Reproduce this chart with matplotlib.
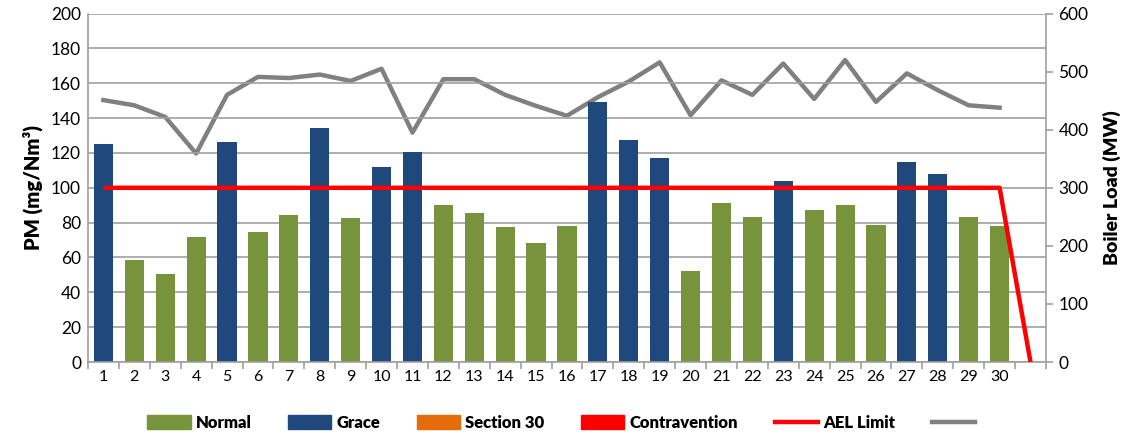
import matplotlib
matplotlib.use("Agg")
import matplotlib.pyplot as plt
from matplotlib.patches import Patch
from matplotlib.lines import Line2D
import numpy as np

plt.rcParams['font.family'] = ['Lato', 'DejaVu Sans']

days = list(range(1, 31))
pm = [125, 58.5, 50.6, 72, 126.5, 74.7, 84.6, 134.1, 82.5, 112,
      120.5, 90.2, 85.4, 77.7, 68.4, 77.9, 149.4, 127.4, 116.9, 52.5,
      91.3, 83.1, 104.1, 87.1, 90, 78.7, 114.6, 107.7, 83.3, 78.3]
status = ['G', 'N', 'N', 'N', 'G', 'N', 'N', 'G', 'N', 'G',
          'G', 'N', 'N', 'N', 'N', 'N', 'G', 'G', 'G', 'N',
          'N', 'N', 'G', 'N', 'N', 'N', 'G', 'G', 'N', 'N']
load = [451, 442, 422, 359, 460, 491, 489, 495, 484, 505,
        395, 487, 487, 460, 441, 424, 456, 483, 516, 425,
        485, 460, 514, 453, 520, 448, 497, 468, 442, 438]
ael_x = list(range(1, 32))
ael = [100] * 30 + [0]

c_normal = '#77933C'
c_grace = '#1F497D'
c_s30 = '#E46C0A'
c_contra = '#FF0000'
c_grid = '#A0A0A0'

fig = plt.figure(figsize=(11.31, 4.38), dpi=100)
ax = fig.add_axes([0.0778, 0.1735, 0.9248 - 0.0778, 0.969 - 0.1735])

colors = [c_grace if s == 'G' else c_normal for s in status]
ax.bar(days, pm, width=0.62, color=colors, zorder=2, edgecolor='none')
ax.plot(ael_x, ael, color=c_contra, lw=3.2, zorder=4, solid_capstyle='butt')

ax.set_xlim(0.5, 31.5)
ax.set_ylim(0, 200)
ax.set_yticks(np.arange(0, 201, 20))
ax.set_xticks(ael_x)
ax.set_xticklabels([str(d) for d in days] + [''])
ax.set_xticks(np.arange(0.5, 31.6, 1), minor=True)
ax.tick_params(axis='x', which='major', length=0, labelsize=11.5, pad=6, colors='black')
ax.tick_params(axis='x', which='minor', length=5, color=c_grid, width=1.2)
ax.tick_params(axis='y', length=0, labelsize=12.5, pad=5)
ax.yaxis.grid(True, color=c_grid, lw=1.2, zorder=0)
ax.set_axisbelow(True)
for s in ['top', 'right']:
    ax.spines[s].set_visible(False)
for s in ['left', 'bottom']:
    ax.spines[s].set_color(c_grid)
    ax.spines[s].set_linewidth(1.2)
ax.set_ylabel('PM (mg/Nm³)', fontsize=14.5, fontweight='heavy', labelpad=6)

ax2 = ax.twinx()
ax2.plot(days, load, color='#808080', lw=3.2, zorder=3)
ax2.set_ylim(0, 600)
ax2.set_yticks(np.arange(0, 601, 100))
ax2.tick_params(axis='y', length=5, color=c_grid, width=1.2, labelsize=12.5, pad=4)
for s in ['top', 'left', 'bottom']:
    ax2.spines[s].set_visible(False)
ax2.spines['right'].set_color(c_grid)
ax2.spines['right'].set_linewidth(1.2)
ax2.set_ylabel('Boiler Load (MW)', fontsize=14, fontweight='heavy', labelpad=10)
ax.set_zorder(ax2.get_zorder() + 1)
ax.patch.set_visible(False)

handles = [Patch(color=c_normal, label='Normal'),
           Patch(color=c_grace, label='Grace'),
           Patch(color=c_s30, label='Section 30'),
           Patch(color=c_contra, label='Contravention'),
           Line2D([0], [0], color=c_contra, lw=3.2, label='AEL Limit'),
           Line2D([0], [0], color='#808080', lw=3.2, label=' ')]
fig.legend(handles=handles, loc='center', bbox_to_anchor=(0.5, 0.034), ncol=6,
           frameon=False, prop={'weight': 'heavy', 'size': 12},
           handlelength=2.6, handleheight=0.9, columnspacing=2.2, handletextpad=0.3)

fig.savefig('out.png', dpi=100)
